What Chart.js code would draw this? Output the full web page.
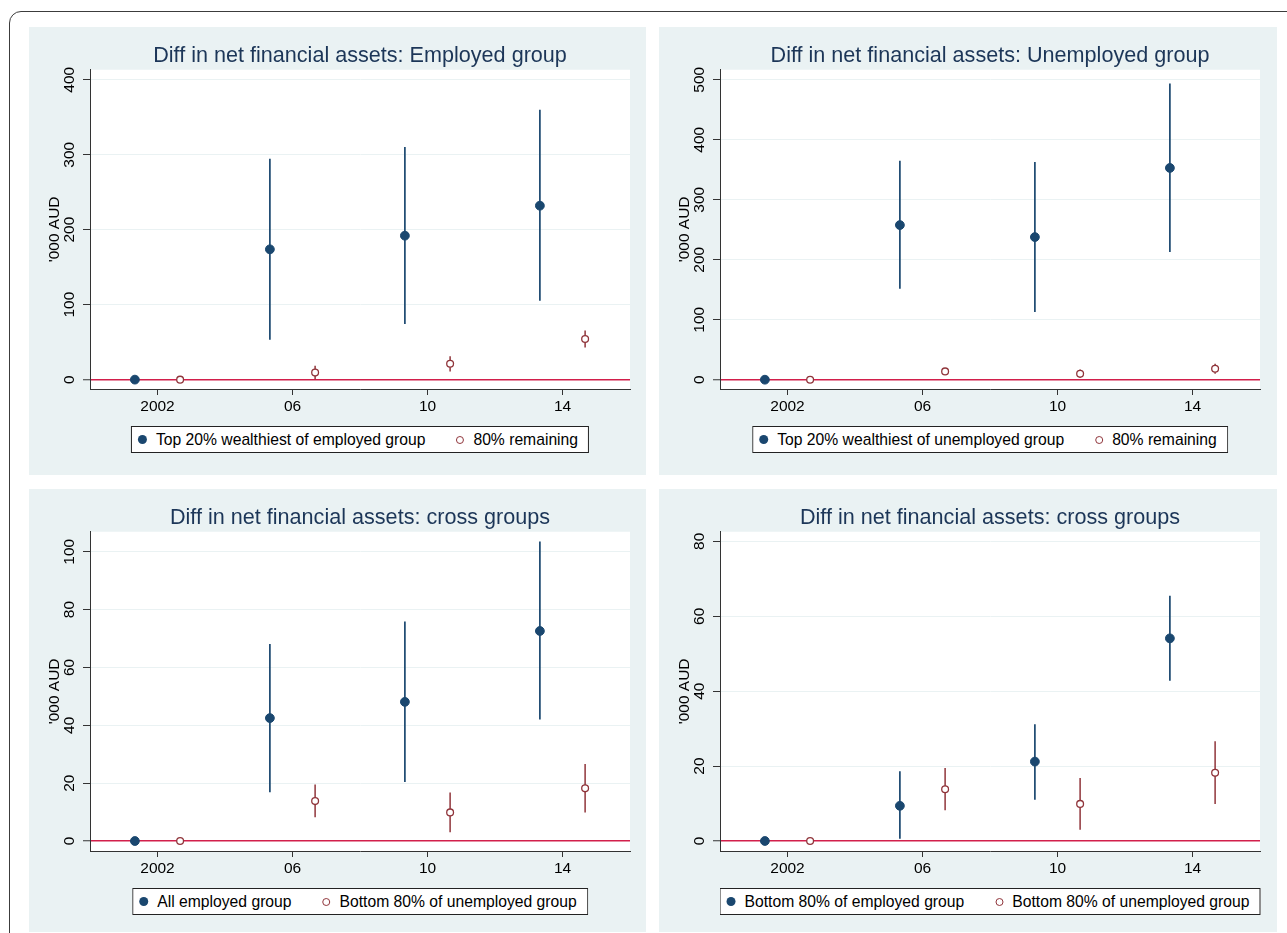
<!DOCTYPE html>
<html>
<head>
<meta charset="utf-8">
<script src="https://cdn.jsdelivr.net/npm/chart.js@4.4.1/dist/chart.umd.min.js"></script>
<style>
  html, body { margin: 0; padding: 0; background: #ffffff; }
  body { width: 1287px; height: 933px; position: relative; overflow: hidden; font-family: "Liberation Sans", Arial, sans-serif; }
  #frame { position: absolute; left: 9px; top: 11px; width: 1400px; height: 1000px; border: 1.5px solid #3c3c3c; border-radius: 12px; }
  .panel { position: absolute; background: #eaf2f3; }
  .panel canvas { position: absolute; left: 0; top: 0; }
  .legend { position: absolute; top: 399px; height: 25px; transform: translateX(-50%); background: #ffffff;
            border: 1px solid #222; display: flex; align-items: center; white-space: nowrap;
            padding: 0 10px 0 6px; font-size: 15.7px; color: #000; }
  .legend .item { display: flex; align-items: center; }
  .legend .item + .item { margin-left: 31px; }
  .legend .dot { width: 9px; height: 9px; border-radius: 50%; margin-right: 9px; box-sizing: border-box; }
</style>
</head>
<body>
<div id="frame"></div>
<div class="panel" id="p1" style="left:29px; top:27px; width:617px; height:448px;"><canvas id="c1"></canvas></div>
<div class="panel" id="p2" style="left:659px; top:27px; width:618px; height:448px;"><canvas id="c2"></canvas></div>
<div class="panel" id="p3" style="left:29px; top:489px; width:617px; height:443px;"><canvas id="c3"></canvas></div>
<div class="panel" id="p4" style="left:659px; top:489px; width:618px; height:443px;"><canvas id="c4"></canvas></div>
<script>
// Survey waves and x-axis labels
const WAVES = [2002, 2006, 2010, 2014];
const X_TICKS = [2002, 2006, 2010, 2014];
const X_TICK_LABELS = ['2002', '06', '10', '14'];

// Differences in net financial assets ('000 AUD), point estimate and 95% CI
// Top 20% wealthiest of employed group
const empTop20   = [0, 173.8, 192.0, 232.0];
const empTop20Lo = [null, 53.3, 74.2, 105.3];
const empTop20Hi = [null, 294.7, 310.2, 360.0];
// Bottom 80% of employed group
const empBottom80   = [0, 9.4, 21.2, 54.1];
const empBottom80Lo = [null, 0.6, 11.0, 42.8];
const empBottom80Hi = [null, 18.6, 31.2, 65.5];
// Top 20% wealthiest of unemployed group
const unempTop20   = [0, 257.8, 237.8, 353.0];
const unempTop20Lo = [null, 151.7, 113.0, 212.8];
const unempTop20Hi = [null, 365.0, 362.8, 494.0];
// Bottom 80% of unemployed group
const unempBottom80   = [0, 13.8, 9.9, 18.2];
const unempBottom80Lo = [null, 8.2, 3.0, 9.9];
const unempBottom80Hi = [null, 19.5, 16.8, 26.6];
// All employed group
const empAll   = [0, 42.5, 48.1, 72.6];
const empAllLo = [null, 16.9, 20.4, 42.0];
const empAllHi = [null, 68.1, 75.9, 103.5];

// y-axis tick values per panel
const Y_TICKS_1 = [0, 100, 200, 300, 400];
const Y_TICKS_2 = [0, 100, 200, 300, 400, 500];
const Y_TICKS_3 = [0, 20, 40, 60, 80, 100];
const Y_TICKS_4 = [0, 20, 40, 60, 80];

// Styling
const FONT = '"Liberation Sans", Arial, sans-serif';
const NAVY = '#1a476f';
const MAROON = '#90353b';
const TITLE_COLOR = '#1c3658';
const GRID_COLOR = '#eaf2f3';
const ZERO_COLOR = '#d21f4b';
const AXIS_COLOR = '#333333';
const DODGE = 0.67;   // horizontal shift of the two series around each wave

const plotBg = {
  id: 'plotBg',
  beforeDraw(chart) {
    const { ctx, chartArea: a } = chart;
    ctx.save();
    ctx.fillStyle = '#ffffff';
    ctx.fillRect(a.left, a.top, a.right - a.left, a.bottom - a.top);
    ctx.restore();
  }
};

function points(values, shift) {
  return WAVES.map((w, i) => ({ x: w + shift, y: values[i] }));
}
function intervals(lo, hi, shift) {
  const out = [];
  WAVES.forEach((w, i) => {
    if (lo[i] !== null && hi[i] !== null) out.push({ x: w + shift, y: [lo[i], hi[i]] });
  });
  return out;
}

function makePanel(p) {
  const panel = document.getElementById(p.panel);
  const canvas = document.getElementById(p.canvas);
  const W = panel.offsetWidth, H = panel.offsetHeight;
  canvas.width = W; canvas.height = H;

  const chart = new Chart(canvas, {
    type: 'scatter',
    data: {
      datasets: [
        { type: 'bar', label: p.labels[0] + ' CI', data: intervals(p.aLo, p.aHi, -DODGE),
          backgroundColor: NAVY, borderWidth: 0, grouped: false, maxBarThickness: 1.7, order: 3 },
        { type: 'bar', label: p.labels[1] + ' CI', data: intervals(p.bLo, p.bHi, DODGE),
          backgroundColor: MAROON, borderWidth: 0, grouped: false, maxBarThickness: 1.5, order: 2 },
        { type: 'scatter', label: p.labels[0], data: points(p.a, -DODGE),
          pointStyle: 'circle', pointRadius: 4.4, pointBackgroundColor: NAVY, pointBorderColor: NAVY,
          pointBorderWidth: 1, order: 1 },
        { type: 'scatter', label: p.labels[1], data: points(p.b, DODGE),
          pointStyle: 'circle', pointRadius: 3.4, pointBackgroundColor: '#ffffff', pointBorderColor: MAROON,
          pointBorderWidth: 1.3, order: 0 }
      ]
    },
    options: {
      responsive: false,
      animation: false,
      devicePixelRatio: 1,
      layout: { padding: { left: 0, right: W - 61 - 540, top: 0, bottom: H - 362 - 30 } },
      plugins: {
        legend: { display: false },
        tooltip: { enabled: false },
        title: {
          display: true, text: p.title, fullSize: false, color: TITLE_COLOR,
          font: { family: FONT, size: 21.6, weight: 'normal', lineHeight: 1.1 },
          padding: { top: 17, bottom: 2 }
        }
      },
      scales: {
        x: {
          type: 'linear', min: 2000, max: 2016, offset: false,
          afterBuildTicks: s => { s.ticks = X_TICKS.map(v => ({ value: v })); },
          afterFit: s => { s.height = 30; },
          ticks: {
            autoSkip: false, maxRotation: 0, minRotation: 0, padding: 2, color: '#000',
            font: { family: FONT, size: 15.5 },
            callback: v => X_TICK_LABELS[X_TICKS.indexOf(v)]
          },
          grid: { offset: false, drawOnChartArea: false, drawTicks: true, tickLength: 6, tickColor: AXIS_COLOR, tickWidth: 1 },
          border: { color: AXIS_COLOR, width: 1 }
        },
        y: {
          type: 'linear', min: p.yMin, max: p.yMax,
          afterBuildTicks: s => { s.ticks = p.yTicks.map(v => ({ value: v })); },
          afterFit: s => { s.width = 61; },
          ticks: {
            minRotation: 90, maxRotation: 90, crossAlign: 'center', padding: p.tickPad, color: '#000',
            font: { family: FONT, size: 15.5 }
          },
          grid: {
            color: c => (c.tick && c.tick.value === 0 ? ZERO_COLOR : GRID_COLOR),
            lineWidth: c => (c.tick && c.tick.value === 0 ? 1.5 : 1),
            tickColor: AXIS_COLOR, tickLength: 7, tickWidth: 1
          },
          border: { color: AXIS_COLOR, width: 1 },
          title: {
            display: true, text: "'000 AUD", color: '#000',
            font: { family: FONT, size: 15.5 }, padding: { top: 16, bottom: 0 }
          }
        }
      }
    },
    plugins: [plotBg]
  });

  // Boxed legend under the plot, centred on the plot area
  const area = chart.chartArea;
  const lg = document.createElement('div');
  lg.className = 'legend';
  lg.style.left = ((area.left + area.right) / 2) + 'px';
  const swatches = [
    'background:' + NAVY + ';',
    'width:8px;height:8px;background:#fff;border:1.3px solid ' + MAROON + ';'
  ];
  p.labels.forEach((label, i) => {
    const item = document.createElement('span');
    item.className = 'item';
    const dot = document.createElement('span');
    dot.className = 'dot';
    dot.style.cssText = swatches[i];
    const txt = document.createElement('span');
    txt.textContent = label;
    item.appendChild(dot); item.appendChild(txt);
    lg.appendChild(item);
  });
  panel.appendChild(lg);
}

makePanel({
  panel: 'p1', canvas: 'c1', title: 'Diff in net financial assets: Employed group',
  labels: ['Top 20% wealthiest of employed group', '80% remaining'],
  a: empTop20, aLo: empTop20Lo, aHi: empTop20Hi,
  b: empBottom80, bLo: empBottom80Lo, bHi: empBottom80Hi,
  yMin: -12.5, yMax: 413.3, yTicks: Y_TICKS_1, tickPad: 0
});
makePanel({
  panel: 'p2', canvas: 'c2', title: 'Diff in net financial assets: Unemployed group',
  labels: ['Top 20% wealthiest of unemployed group', '80% remaining'],
  a: unempTop20, aLo: unempTop20Lo, aHi: unempTop20Hi,
  b: unempBottom80, bLo: unempBottom80Lo, bHi: unempBottom80Hi,
  yMin: -15.5, yMax: 516.7, yTicks: Y_TICKS_2, tickPad: 0
});
makePanel({
  panel: 'p3', canvas: 'c3', title: 'Diff in net financial assets: cross groups',
  labels: ['All employed group', 'Bottom 80% of unemployed group'],
  a: empAll, aLo: empAllLo, aHi: empAllHi,
  b: unempBottom80, bLo: unempBottom80Lo, bHi: unempBottom80Hi,
  yMin: -3.45, yMax: 106.9, yTicks: Y_TICKS_3, tickPad: 0
});
makePanel({
  panel: 'p4', canvas: 'c4', title: 'Diff in net financial assets: cross groups',
  labels: ['Bottom 80% of employed group', 'Bottom 80% of unemployed group'],
  a: empBottom80, aLo: empBottom80Lo, aHi: empBottom80Hi,
  b: unempBottom80, bLo: unempBottom80Lo, bHi: unempBottom80Hi,
  yMin: -2.67, yMax: 82.56, yTicks: Y_TICKS_4, tickPad: 4.3
});
</script>
</body>
</html>
